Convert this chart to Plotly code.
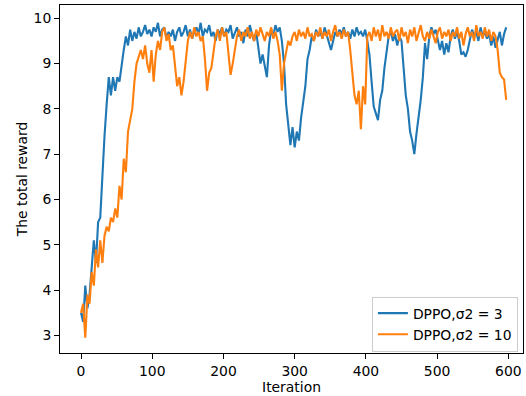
import plotly.graph_objects as go

iterations = list(range(0, 600, 3))

reward_sigma3 = [
    3.5, 3.3, 4.1, 3.6, 3.9, 4.6, 5.1, 4.6, 5.5, 5.6,
    6.6, 7.4, 8.1, 8.7, 8.3, 8.7, 8.4, 8.7, 8.6, 9.0,
    9.3, 9.6, 9.4, 9.75, 9.5, 9.7, 9.55, 9.8, 9.6, 9.7,
    9.85, 9.65, 9.75, 9.6, 9.8, 9.7, 9.9, 9.6, 9.75, 9.8,
    9.55, 9.7, 9.6, 9.75, 9.5, 9.7, 9.8, 9.6, 9.7, 9.85,
    9.6, 9.75, 9.55, 9.7, 9.8, 9.65, 9.9, 9.6, 9.75, 9.7,
    9.85, 9.6, 9.7, 9.5, 9.75, 9.65, 9.8, 9.6, 9.75, 9.7,
    9.85, 9.55, 9.7, 9.8, 9.6, 9.7, 9.45, 9.75, 9.6, 9.85,
    9.65, 9.5, 9.7, 9.3, 9.0, 9.2, 8.9, 8.7, 9.4, 9.75,
    9.6, 9.85, 9.7, 9.8, 9.5, 9.0, 8.1, 7.7, 7.2, 7.6,
    7.15, 7.5, 7.3, 7.8, 8.1, 8.5, 9.1, 9.3, 9.6, 9.5,
    9.75, 9.6, 9.7, 9.55, 9.8, 9.65, 9.5, 9.3, 9.5, 9.7,
    9.6, 9.75, 9.65, 9.8, 9.6, 9.7, 9.55, 9.75, 9.6, 9.8,
    9.65, 9.7, 9.6, 9.75, 9.5, 9.2, 8.6, 8.05, 7.9, 7.75,
    8.2, 8.4, 8.9, 9.3, 9.6, 9.7, 9.5, 9.65, 9.4, 9.6,
    9.5, 8.9, 8.3, 8.0, 7.5, 7.3, 7.0, 7.45, 7.8, 8.2,
    8.7, 9.45, 9.1, 9.6, 9.8, 9.65, 9.75, 9.55, 9.3, 9.5,
    9.2, 9.45, 9.25, 9.6, 9.75, 9.55, 9.7, 9.5, 9.2, 9.25,
    9.15, 9.3, 9.5, 9.75, 9.6, 9.7, 9.5, 9.8, 9.6, 9.7,
    9.55, 9.65, 9.4, 9.6, 9.35, 9.55, 9.7, 9.4, 9.65, 9.8,
]

reward_sigma10 = [
    3.5, 3.7, 2.95, 3.9, 3.7, 4.4, 4.1, 4.9, 4.5, 5.1,
    4.6, 5.2, 5.4, 5.3, 5.6, 5.5, 5.8, 5.6, 6.3, 6.0,
    6.9, 6.6, 7.5, 7.8, 8.0, 8.6, 9.0, 9.15, 9.3, 9.1,
    9.4, 9.0, 8.8, 9.3, 8.6, 9.2, 9.5, 9.3, 9.7, 9.8,
    9.5, 9.65, 9.3, 9.4, 8.9, 8.5, 8.7, 8.3, 8.6, 9.1,
    9.5, 9.7, 9.55, 9.8, 9.6, 9.7, 9.5, 9.6, 9.1, 8.4,
    8.8, 8.9, 9.2, 9.6, 9.75, 9.5, 9.8, 9.6, 9.7, 9.2,
    8.75, 9.0, 9.3, 9.6, 9.75, 9.5, 9.7, 9.6, 9.8, 9.55,
    9.7, 9.5, 9.75, 9.6, 9.8, 9.65, 9.5, 9.7, 9.6, 9.8,
    9.55, 9.7, 9.5, 9.2, 8.4, 9.0, 9.3, 9.5, 9.4, 9.6,
    9.7, 9.5, 9.75, 9.6, 9.7, 9.55, 9.8, 9.6, 9.65, 9.5,
    9.7, 9.6, 9.8, 9.55, 9.7, 9.6, 9.75, 9.5, 9.7, 9.85,
    9.6, 9.7, 9.55, 9.75, 9.6, 9.7, 9.3, 8.7, 8.3, 8.1,
    8.4, 7.55, 8.5, 8.1, 9.6, 9.7, 9.5, 9.8, 9.6, 9.75,
    9.5, 9.85, 9.6, 9.7, 9.55, 9.8, 9.6, 9.7, 9.75, 9.5,
    9.8, 9.6, 9.7, 9.45, 9.75, 9.6, 9.8, 9.5, 9.7, 9.85,
    9.6, 9.5, 9.7, 9.55, 9.75, 9.6, 9.45, 9.7, 9.8, 9.55,
    9.7, 9.6, 9.75, 9.5, 9.7, 9.6, 9.8, 9.55, 9.7, 9.4,
    9.65, 9.8, 9.6, 9.7, 9.5, 9.85, 9.6, 9.7, 9.55, 9.8,
    9.6, 9.75, 9.5, 9.7, 9.6, 9.3, 8.8, 8.7, 8.65, 8.2,
]

x_ticks = [0, 100, 200, 300, 400, 500, 600]
y_ticks = [3, 4, 5, 6, 7, 8, 9, 10]
series_names = ["DPPO,σ2 = 3", "DPPO,σ2 = 10"]

FONT = "DejaVu Sans"
FS = 13.9

fig = go.Figure()
fig.add_trace(go.Scatter(x=iterations, y=reward_sigma3, mode="lines",
                         name=series_names[0],
                         line=dict(color="#1f77b4", width=2.1)))
fig.add_trace(go.Scatter(x=iterations, y=reward_sigma10, mode="lines",
                         name=series_names[1],
                         line=dict(color="#ff7f0e", width=2.1)))

axis_common = dict(showgrid=False, zeroline=False, showline=True, linecolor="black",
                   linewidth=1.1, mirror=True, ticks="outside", ticklen=4.9,
                   tickwidth=1.1, tickcolor="black",
                   tickfont=dict(family=FONT, size=FS, color="black"))

fig.update_layout(
    width=526, height=396,
    margin=dict(l=60, r=3, t=5, b=43),
    paper_bgcolor="white", plot_bgcolor="white",
    font=dict(family=FONT, size=FS, color="black"),
    xaxis=dict(range=[-29.5, 620.6], tickvals=x_ticks,
               title=dict(text="Iteration", font=dict(family=FONT, size=FS), standoff=4),
               **axis_common),
    yaxis=dict(range=[2.612, 10.293], tickvals=y_ticks,
               title=dict(text="The total reward", font=dict(family=FONT, size=FS), standoff=2),
               **axis_common),
    legend=dict(x=0.989, y=0.004, xanchor="right", yanchor="bottom",
                bgcolor="rgba(255,255,255,0.8)", bordercolor="#cccccc", borderwidth=1,
                font=dict(family=FONT, size=FS, color="black"),
                tracegroupgap=0, itemwidth=30),
    showlegend=True,
)

fig.write_html("out.html")
